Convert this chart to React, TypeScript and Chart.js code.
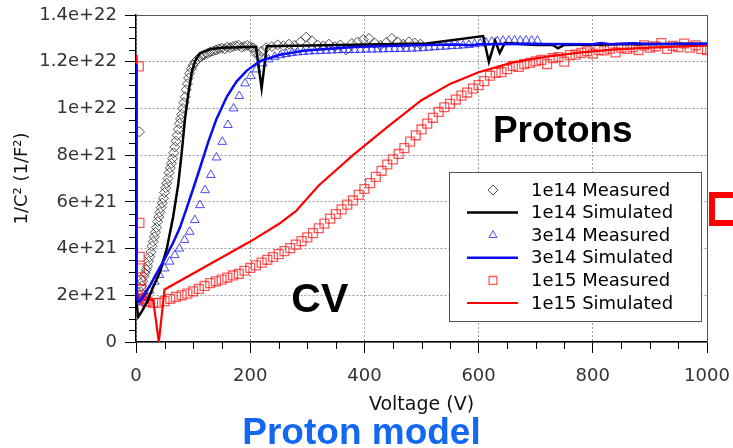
import React, { useEffect, useRef } from 'react';
import { Chart, registerables } from 'chart.js';
import { drawPoint } from 'chart.js/helpers';

Chart.register(...registerables);

// values are in units of 1e21 (1/F^2)
const UNIT = 1e21;

const xTickValues = [0, 200, 400, 600, 800, 1000];
const xTickLabels = ['0', '200', '400', '600', '800', '1000'];
const yTickValues = [0, 2e21, 4e21, 6e21, 8e21, 1e22, 1.2e22, 1.4e22];
const yTickLabels = ['0', '2e+21', '4e+21', '6e+21', '8e+21', '1e+22', '1.2e+22', '1.4e+22'];
const xMinorStep = 50;
const yMinorStep = 5e20;

const seriesLabels = [
  '1e14 Measured',
  '1e14 Simulated',
  '3e14 Measured',
  '3e14 Simulated',
  '1e15 Measured',
  '1e15 Simulated',
];

// [voltage, 1/C^2 in 1e21]
const meas1e14: [number, number][] = [
  [1, 1.85], [3, 1.75], [6, 9.0], [7, 2.0], [8, 2.15], [10, 2.4], [12, 2.6], [14, 2.8], [16, 2.95], [18, 3.1],
  [20, 3.25], [22, 3.45], [24, 3.65], [26, 3.85], [28, 4.1], [30, 4.3], [32, 4.5], [34, 4.7], [36, 4.9],
  [38, 5.15], [40, 5.35], [42, 5.55], [44, 5.75], [46, 5.95], [48, 6.15], [50, 6.4], [52, 6.6], [54, 6.8],
  [56, 7.0], [58, 7.25], [60, 7.45], [62, 7.65], [64, 7.85], [66, 8.1], [68, 8.35], [70, 8.6], [72, 8.85],
  [74, 9.1], [76, 9.35], [78, 9.55], [80, 9.75], [82, 10.0], [84, 10.25], [86, 10.5], [88, 10.8], [90, 11.05],
  [92, 11.3], [94, 11.5], [97, 11.7], [100, 11.85], [104, 12.0], [108, 12.1], [112, 12.2], [116, 12.25],
  [120, 12.3], [125, 12.35], [130, 12.42], [135, 12.45], [140, 12.5], [145, 12.55], [150, 12.58], [155, 12.55],
  [160, 12.62], [165, 12.6], [170, 12.65], [175, 12.68], [180, 12.7], [185, 12.62], [190, 12.66], [195, 12.7],
  [200, 12.64], [205, 12.6], [210, 12.35], [215, 12.3], [220, 12.45], [228, 12.6], [238, 12.65], [248, 12.72],
  [258, 12.68], [268, 12.75], [278, 12.7], [288, 12.85], [298, 13.05], [308, 12.9], [318, 12.72], [328, 12.68],
  [338, 12.75], [348, 12.65], [358, 12.72], [368, 12.5], [378, 12.78], [388, 12.85], [398, 12.95], [408, 13.0],
  [418, 12.8], [428, 12.7], [438, 12.82], [448, 13.0], [458, 12.85], [468, 12.75], [478, 12.85], [488, 12.8],
  [498, 12.75],
];

const sim1e14: [number, number][] = [
  [0, 1.8], [4, 1.08], [10, 1.3], [20, 1.75], [30, 2.35], [42, 3.0], [54, 4.0], [65, 5.35], [74, 6.75],
  [80, 8.1], [86, 9.6], [92, 10.7], [98, 11.6], [104, 12.05], [112, 12.36], [130, 12.53], [150, 12.6],
  [210, 12.64], [220, 10.86], [229, 12.66], [509, 12.78], [608, 13.1], [618, 12.0], [629, 12.9], [637, 12.38],
  [646, 12.8], [700, 12.72], [730, 12.72], [739, 12.57], [750, 12.72], [850, 12.75], [1000, 12.77],
];

const meas3e14: [number, number][] = [
  [2, 1.8], [5, 1.7], [8, 1.85], [12, 1.9], [16, 2.0], [24, 2.2], [33, 2.58], [41, 2.87], [50, 3.15],
  [59, 3.44], [68, 3.72], [76, 4.0], [85, 4.37], [94, 4.72], [103, 5.22], [112, 5.86], [121, 6.5], [131, 7.15],
  [141, 7.9], [151, 8.57], [161, 9.29], [171, 10.0], [181, 10.53], [191, 11.07], [201, 11.39], [211, 11.67],
  [222, 11.93], [232, 12.1], [243, 12.21], [253, 12.28], [263, 12.33], [273, 12.37], [283, 12.4], [293, 12.42],
  [303, 12.44], [313, 12.45], [323, 12.46], [333, 12.47], [343, 12.48], [353, 12.49], [363, 12.5], [373, 12.5],
  [383, 12.5], [393, 12.51], [403, 12.52], [413, 12.52], [423, 12.53], [433, 12.53], [443, 12.54], [453, 12.54],
  [463, 12.55], [473, 12.55], [483, 12.56], [493, 12.57], [503, 12.58], [513, 12.6], [523, 12.62], [533, 12.64],
  [543, 12.65], [553, 12.67], [563, 12.68], [573, 12.7], [583, 12.72], [593, 12.75], [603, 12.78], [613, 12.82],
  [623, 12.86], [633, 12.88], [643, 12.9], [653, 12.9], [663, 12.91], [673, 12.9], [683, 12.91], [693, 12.9],
  [703, 12.9],
];

const sim3e14: [number, number][] = [
  [0, 11.9], [1, 1.9], [5, 1.72], [13, 1.95], [25, 2.45], [36, 2.94], [50, 3.55], [65, 4.25], [77, 4.9],
  [89, 5.75], [100, 6.55], [112, 7.45], [127, 8.6], [141, 9.55], [159, 10.5], [176, 11.15], [194, 11.62],
  [217, 12.02], [252, 12.3], [293, 12.47], [381, 12.63], [497, 12.72], [560, 12.74], [585, 12.7], [600, 12.75],
  [700, 12.76], [800, 12.75], [815, 12.8], [830, 12.75], [870, 12.79], [900, 12.76], [1000, 12.77],
];

const meas1e15: [number, number][] = [
  [5, 11.8], [6, 5.1], [6.5, 3.65], [7, 3.15], [8, 2.65], [9, 2.25], [11, 2.0], [14, 1.85], [17, 1.75],
  [20, 1.73], [30, 1.67], [40, 1.68], [50, 1.75], [60, 1.85], [70, 1.93], [80, 2.0], [90, 2.07], [100, 2.17],
  [110, 2.27], [120, 2.4], [130, 2.52], [140, 2.6], [150, 2.67], [160, 2.76], [170, 2.85], [180, 2.92],
  [190, 3.05], [200, 3.17], [210, 3.28], [220, 3.4], [230, 3.52], [240, 3.64], [250, 3.76], [260, 3.89],
  [270, 4.02], [280, 4.17], [290, 4.32], [300, 4.48], [310, 4.66], [320, 4.87], [330, 5.07], [340, 5.28],
  [350, 5.48], [360, 5.68], [370, 5.88], [380, 6.06], [390, 6.3], [400, 6.55], [410, 6.8], [420, 7.07],
  [430, 7.33], [440, 7.6], [450, 7.82], [460, 8.05], [470, 8.3], [480, 8.58], [490, 8.85], [500, 9.1],
  [510, 9.35], [520, 9.6], [530, 9.85], [540, 10.05], [550, 10.2], [560, 10.38], [570, 10.55], [580, 10.68],
  [590, 10.85], [600, 11.0], [610, 11.17], [620, 11.4], [630, 11.52], [640, 11.55], [650, 11.68], [660, 11.82],
  [670, 11.78], [680, 11.9], [690, 11.95], [700, 12.02], [710, 12.08], [720, 11.9], [730, 12.15], [740, 12.2],
  [750, 12.0], [760, 12.28], [770, 12.3], [780, 12.38], [790, 12.45], [800, 12.35], [810, 12.5], [820, 12.48],
  [830, 12.56], [840, 12.4], [850, 12.6], [860, 12.55], [870, 12.62], [880, 12.5], [890, 12.7], [900, 12.6],
  [910, 12.66], [920, 12.8], [930, 12.55], [940, 12.68], [950, 12.62], [960, 12.78], [970, 12.6], [980, 12.7],
  [990, 12.55], [1000, 12.5],
];

const sim1e15: [number, number][] = [
  [0, 12.3], [1, 1.85], [30, 1.8], [40, 0], [50, 2.25], [200, 4.3], [250, 5.05], [280, 5.6], [320, 6.7],
  [380, 8.0], [440, 9.2], [500, 10.35], [550, 11.05], [600, 11.55], [660, 11.97], [720, 12.22], [780, 12.4],
  [840, 12.53], [900, 12.6], [1000, 12.7],
];

const annotations = [
  { text: 'CV', x: 272, y: 1.3e21, size: 41 },
  { text: 'Protons', x: 625, y: 8.56e21, size: 37 },
];

const toXY = (arr: [number, number][]) => arr.map(([v, c]) => ({ x: v, y: c * UNIT }));

const minorTicksPlugin = {
  id: 'minorTicks',
  afterDraw(chart: any) {
    const { ctx } = chart;
    const xs = chart.scales.x;
    const ys = chart.scales.y;
    ctx.save();
    ctx.strokeStyle = '#000';
    ctx.lineWidth = 1;
    ctx.beginPath();
    for (let v = xs.min; v <= xs.max + 1e-9; v += xMinorStep) {
      if (xTickValues.includes(v)) continue;
      const px = Math.round(xs.getPixelForValue(v)) + 0.5;
      ctx.moveTo(px, xs.top);
      ctx.lineTo(px, xs.top + 7);
    }
    for (let i = 0; i * yMinorStep <= ys.max * 1.0000001; i++) {
      const v = i * yMinorStep;
      if (i % 4 === 0) continue;
      const py = Math.round(ys.getPixelForValue(v)) + 0.5;
      ctx.moveTo(ys.right, py);
      ctx.lineTo(ys.right - 7, py);
    }
    ctx.stroke();
    // frame top / right
    const a = chart.chartArea;
    ctx.strokeStyle = '#555';
    ctx.beginPath();
    ctx.moveTo(a.left, a.top + 0.5);
    ctx.lineTo(a.right + 0.5, a.top + 0.5);
    ctx.lineTo(a.right + 0.5, a.bottom);
    ctx.stroke();
    ctx.restore();
  },
};

const textPlugin = {
  id: 'annotText',
  afterDatasetsDraw(chart: any) {
    const { ctx } = chart;
    const xs = chart.scales.x;
    const ys = chart.scales.y;
    ctx.save();
    ctx.fillStyle = '#000';
    ctx.textAlign = 'left';
    ctx.textBaseline = 'alphabetic';
    annotations.forEach((a) => {
      ctx.font = `bold ${a.size}px "Liberation Sans", Arial, sans-serif`;
      ctx.fillText(a.text, xs.getPixelForValue(a.x), ys.getPixelForValue(a.y));
    });
    // caption below the chart
    ctx.font = 'bold 37px "Liberation Sans", Arial, sans-serif';
    ctx.fillStyle = '#1268f0';
    ctx.textAlign = 'center';
    ctx.fillText('Proton model', (chart.chartArea.left + chart.chartArea.right) / 2 - 60, chart.height - 4);
    ctx.restore();
  },
};

const legendPlugin = {
  id: 'boxLegend',
  afterDraw(chart: any) {
    const { ctx, chartArea } = chart;
    const w = 252;
    const h = 149;
    const left = Math.round(chartArea.right - 258);
    const top = Math.round(chartArea.top + 157);
    ctx.save();
    ctx.fillStyle = '#fff';
    ctx.fillRect(left, top, w, h);
    ctx.strokeStyle = '#555';
    ctx.lineWidth = 1;
    ctx.strokeRect(left + 0.5, top + 0.5, w, h);
    ctx.font = '18px "DejaVu Sans", sans-serif';
    ctx.textBaseline = 'middle';
    ctx.textAlign = 'left';
    chart.data.datasets.forEach((ds: any, i: number) => {
      const y = top + 18 + i * 22.6;
      const cx = left + 44;
      if (ds.showLine) {
        ctx.strokeStyle = ds.borderColor;
        ctx.lineWidth = ds.borderWidth;
        ctx.beginPath();
        ctx.moveTo(left + 18, y);
        ctx.lineTo(left + 69, y);
        ctx.stroke();
      } else {
        ctx.strokeStyle = ds.pointBorderColor;
        ctx.fillStyle = 'rgba(0,0,0,0)';
        ctx.lineWidth = ds.pointBorderWidth;
        drawPoint(ctx, { pointStyle: ds.pointStyle, rotation: 0, radius: ds.legendRadius, borderWidth: ds.pointBorderWidth }, cx, y);
      }
      ctx.fillStyle = '#000';
      ctx.fillText(ds.label, left + 82, y + 1);
    });
    ctx.restore();
  },
};

export default function App() {
  const ref = useRef<HTMLCanvasElement | null>(null);

  useEffect(() => {
    if (!ref.current) return;
    const tickFont = { family: '"DejaVu Sans", sans-serif', size: 18 };
    const chart = new Chart(ref.current, {
      type: 'scatter',
      data: {
        datasets: [
          {
            label: seriesLabels[0],
            data: toXY(meas1e14),
            showLine: false,
            pointStyle: 'rectRot',
            pointRadius: 5,
            pointBorderWidth: 1,
            pointBorderColor: 'rgba(40,40,40,0.8)',
            pointBackgroundColor: 'rgba(0,0,0,0)',
            legendRadius: 5,
            order: 5,
          } as any,
          {
            label: seriesLabels[1],
            data: toXY(sim1e14),
            showLine: true,
            borderColor: '#000000',
            borderWidth: 2.5,
            pointRadius: 0,
            tension: 0,
            order: 1,
          } as any,
          {
            label: seriesLabels[2],
            data: toXY(meas3e14),
            showLine: false,
            pointStyle: 'triangle',
            pointRadius: 5,
            pointBorderWidth: 1,
            pointBorderColor: 'rgba(30,30,255,0.8)',
            pointBackgroundColor: 'rgba(0,0,0,0)',
            legendRadius: 4.5,
            order: 4,
          } as any,
          {
            label: seriesLabels[3],
            data: toXY(sim3e14),
            showLine: true,
            borderColor: '#0a0af5',
            borderWidth: 2.5,
            pointRadius: 0,
            tension: 0,
            order: 0,
          } as any,
          {
            label: seriesLabels[4],
            data: toXY(meas1e15),
            showLine: false,
            pointStyle: 'rect',
            pointRadius: 6.3,
            pointBorderWidth: 1.3,
            pointBorderColor: 'rgba(255,20,20,0.7)',
            pointBackgroundColor: 'rgba(0,0,0,0)',
            legendRadius: 5.5,
            order: 3,
          } as any,
          {
            label: seriesLabels[5],
            data: toXY(sim1e15),
            showLine: true,
            borderColor: '#ff0000',
            borderWidth: 2.2,
            pointRadius: 0,
            tension: 0,
            order: 2,
          } as any,
        ],
      },
      options: {
        animation: false,
        responsive: false,
        devicePixelRatio: 1,
        layout: { padding: { left: 8, right: 26, top: 15, bottom: 32 } },
        plugins: { legend: { display: false }, tooltip: { enabled: false } },
        scales: {
          x: {
            type: 'linear',
            min: 0,
            max: 1000,
            afterBuildTicks: (s: any) => {
              s.ticks = xTickValues.map((v) => ({ value: v }));
            },
            afterFit: (s: any) => {
              s.height = 74;
              s.paddingLeft = 0;
              s.paddingRight = 0;
            },
            ticks: {
              callback: (_v: any, i: number) => xTickLabels[i],
              autoSkip: false,
              maxRotation: 0,
              padding: 13,
              color: '#333',
              font: tickFont,
            },
            grid: { color: '#9a9a9a', lineWidth: 1, tickLength: 11, tickColor: '#000', tickWidth: 1 },
            border: { display: true, color: '#000', width: 1.5, dash: [2, 2] },
            title: {
              display: true,
              text: 'Voltage (V)',
              color: '#111',
              font: { family: '"DejaVu Sans", sans-serif', size: 19 },
              padding: 0,
            },
          },
          y: {
            type: 'linear',
            min: 0,
            max: 1.4e22,
            afterBuildTicks: (s: any) => {
              s.ticks = yTickValues.map((v) => ({ value: v }));
            },
            afterFit: (s: any) => {
              s.width = 128;
              s.paddingTop = 0;
              s.paddingBottom = 0;
            },
            ticks: {
              callback: (_v: any, i: number) => yTickLabels[i],
              autoSkip: false,
              padding: 8,
              color: '#333',
              font: tickFont,
            },
            grid: { color: '#9a9a9a', lineWidth: 1, tickLength: 11, tickColor: '#000', tickWidth: 1 },
            border: { display: true, color: '#000', width: 1.5, dash: [2, 2] },
            title: {
              display: true,
              text: '1/C² (1/F²)',
              color: '#111',
              font: { family: '"DejaVu Sans", sans-serif', size: 18 },
              padding: { top: 4, bottom: 0 },
            },
          },
        },
      } as any,
      plugins: [minorTicksPlugin, textPlugin, legendPlugin],
    });
    return () => chart.destroy();
  }, []);

  return (
    <div style={{ position: 'fixed', left: 0, top: 0, width: 733, height: 448, background: '#fff', overflow: 'hidden' }}>
      <canvas ref={ref} width={733} height={448} style={{ display: 'block', width: 733, height: 448 }} />
      <div
        style={{
          position: 'absolute',
          left: 709,
          top: 192,
          width: 40,
          height: 34,
          border: '6px solid #ff0000',
          boxSizing: 'border-box',
        }}
      />
    </div>
  );
}
